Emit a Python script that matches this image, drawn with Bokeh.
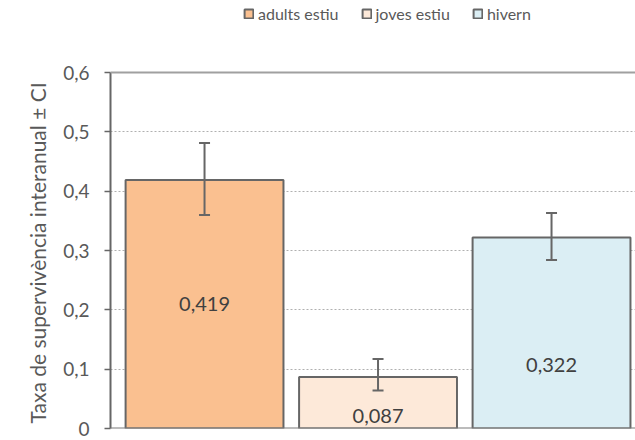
from bokeh.plotting import figure
from bokeh.models import (ColumnDataSource, Range1d, Legend, LegendItem, Whisker,
                          TeeHead, Span, FixedTicker, CustomJSTickFormatter, Title)
from bokeh.core.properties import value
from bokeh.embed import file_html
from bokeh.resources import INLINE

categories = ["adults estiu", "joves estiu", "hivern"]
values = [0.419, 0.087, 0.322]
ci_lower = [0.360, 0.064, 0.284]
ci_upper = [0.481, 0.117, 0.363]
value_labels = ["0,419", "0,087", "0,322"]
label_frac = [0.5, 0.25, 0.33]
colors = ["#FAC090", "#FDE9D9", "#DBEEF4"]
y_ticks = [0, 0.1, 0.2, 0.3, 0.4, 0.5, 0.6]
y_tick_labels = ["0", "0,1", "0,2", "0,3", "0,4", "0,5", "0,6"]
y_title = "Taxa de supervivència  interanual ± CI"
y_max = 0.6

FONT = "Lato"
GREY = "#595959"
EDGE = "#666666"

# layout: frame spans the full height so the legend can sit inside it, above the axis top
W, H = 635, 440
BOTTOM = 12
AXIS_TOP_PX = 72
frame_h = H - BOTTOM
y_end = y_max * frame_h / (frame_h - AXIS_TOP_PX)

xs = list(range(len(categories)))
src = ColumnDataSource(dict(
    x=xs, top=values, lower=ci_lower, upper=ci_upper, color=colors,
    label=value_labels, label_y=[v * f for v, f in zip(values, label_frac)],
))

p = figure(width=W, height=H, output_backend="svg", toolbar_location=None,
           x_range=Range1d(-0.542, 2.484), y_range=Range1d(0, y_end),
           min_border_left=110, min_border_right=0, min_border_top=0,
           min_border_bottom=BOTTOM)
p.outline_line_color = None
p.background_fill_color = "white"
p.border_fill_color = "white"

renderers = []
for i in xs:
    view_src = ColumnDataSource(dict(x=[xs[i]], top=[values[i]]))
    r = p.vbar(x="x", top="top", width=0.91, source=view_src,
               fill_color=colors[i], line_color=EDGE, line_width=2)
    renderers.append(r)

wh = Whisker(base="x", upper="upper", lower="lower", source=src, level="overlay",
             line_color=EDGE, line_width=2,
             upper_head=TeeHead(size=11, line_color=EDGE, line_width=2),
             lower_head=TeeHead(size=11, line_color=EDGE, line_width=2))
p.add_layout(wh)

p.text(x="x", y="label_y", text="label", source=src, text_align="center",
       text_baseline="middle", text_font=value(FONT), text_font_size="20px",
       text_color="#404040")

p.add_layout(Span(location=y_max, dimension="width", line_color="#a0a0a0", line_width=2))
p.add_layout(Span(location=0.0, dimension="width", line_color="#7a7a7a", line_width=2))

p.xaxis.visible = False
p.xgrid.visible = False
p.ygrid.grid_line_color = "#b0b0b0"
p.ygrid.grid_line_dash = "2 2"
p.ygrid.grid_line_width = 1

ya = p.yaxis[0]
ya.ticker = FixedTicker(ticks=y_ticks)
ya.bounds = (0, y_max)
ya.formatter = CustomJSTickFormatter(args=dict(lbls=y_tick_labels, tvals=y_ticks), code="""
    for (let i = 0; i < tvals.length; i++) { if (Math.abs(tvals[i] - tick) < 1e-9) return lbls[i]; }
    return '';
""")
ya.axis_line_color = EDGE
ya.axis_line_width = 2
ya.major_tick_line_color = EDGE
ya.major_tick_line_width = 1.5
ya.major_tick_out = 6
ya.major_tick_in = 0
ya.minor_tick_line_color = None
ya.major_label_standoff = 15
ya.major_label_text_font = FONT
ya.major_label_text_font_size = "19px"
ya.major_label_text_color = GREY

# y-axis title, anchored at the bottom of the axis and reading upwards
p.add_layout(Title(text=y_title, align="left", offset=5, standoff=22,
                   text_font=FONT, text_font_size="21px", text_font_style="normal",
                   text_color=GREY), "left")

legend = Legend(items=[LegendItem(label=c, renderers=[r]) for c, r in zip(categories, renderers)],
                orientation="horizontal", location=(133, frame_h - 23),
                glyph_width=11, glyph_height=11, label_standoff=4, spacing=22,
                padding=0, margin=0, border_line_color=None, background_fill_alpha=0,
                label_text_font=FONT, label_text_font_size="16px",
                label_text_color=GREY, label_height=14)
p.add_layout(legend, "center")

open("out.html", "w").write(file_html(p, INLINE))
